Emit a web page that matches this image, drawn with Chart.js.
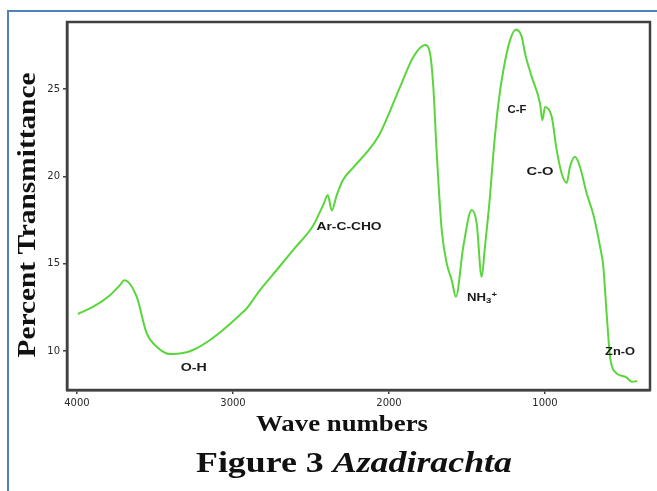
<!DOCTYPE html>
<html><head><meta charset="utf-8">
<script src="https://cdn.jsdelivr.net/npm/chart.js@4.4.0/dist/chart.umd.min.js"></script>
<style>
html,body{margin:0;padding:0;background:#fff;}
#wrap{position:relative;width:657px;height:491px;overflow:hidden;background:#fff;}
#frame{position:absolute;left:7px;top:10px;width:700px;height:600px;border-left:2px solid #4f81bd;border-top:2px solid #4f81bd;}
canvas{position:absolute;left:0;top:0;}
</style></head><body>
<div id="wrap"><div id="frame"></div><canvas id="c" width="657" height="491"></canvas></div>
<script>
// ---- data ----
const wavenumbers = [3994,3895,3788,3724,3697,3617,3553,3489,3404,3329,3256,3147,3040,2934,2912,2827,2720,2615,2485,2420,2392,2367,2335,2295,2230,2122,2058,1929,1844,1769,1737,1716,1694,1662,1630,1598,1571,1524,1470,1438,1406,1385,1353,1331,1299,1267,1224,1186,1149,1128,1085,1032,1017,1000,957,925,893,861,840,808,776,733,690,647,626,605,583,551,480,444,408];
const transmittance = [12.12,12.54,13.2,13.78,14.06,13.1,11.01,10.25,9.83,9.87,10.06,10.63,11.39,12.25,12.44,13.49,14.64,15.78,17.2,18.4,18.93,18.05,18.93,19.79,20.5,21.6,22.46,25.13,26.84,27.52,27.04,25.13,21.31,16.93,15.02,14.06,13.11,15.97,18.07,17.31,14.25,15.97,18.83,21.31,24.17,26.08,27.8,28.41,27.99,27.04,25.7,24.17,23.22,23.98,23.41,21.5,20.17,19.63,20.55,21.12,20.55,19.03,17.8,15.97,14.82,12.15,9.67,8.8,8.51,8.24,8.28];
const xTickValues = [4000,3000,2000,1000];
const yTickValues = [10,15,20,25];
const peakNames = ['O-H','Ar-C-CHO','NH3+','C-F','C-O','Zn-O'];
const peakWn = [3252,2256,1404,1179,1032,519];
const peakT = [9.03,17.10,13.03,23.79,20.25,9.94];
const xTitle = 'Wave numbers';
const yTitle = 'Percent Transmittance';
const captionMain = 'Figure 3 ';
const captionItalic = 'Azadirachta';

// ---- styling ----
const peakLabelWidths = {'O-H':26,'Ar-C-CHO':65,'NH3+':30,'C-F':19,'C-O':27,'Zn-O':30};

function fitText(ctx, text, cx, cy, w, font, rot) {
  ctx.save();
  ctx.font = font;
  const m = ctx.measureText(text).width;
  ctx.translate(cx, cy);
  if (rot) ctx.rotate(rot);
  ctx.scale(w / m, 1);
  ctx.textAlign = 'center';
  ctx.textBaseline = 'middle';
  ctx.fillText(text, 0, 0);
  ctx.restore();
}

const decor = {
  id: 'decor',
  beforeDatasetsDraw(chart) {
    const {ctx, chartArea: a} = chart;
    ctx.save();
    ctx.strokeStyle = '#404040';
    ctx.lineWidth = 2.5;
    ctx.strokeRect(a.left, a.top, a.right - a.left, a.bottom - a.top);
    ctx.restore();
  },
  afterDraw(chart) {
    const {ctx} = chart;
    const xs = chart.scales.x, ys = chart.scales.y;
    ctx.save();
    ctx.fillStyle = '#111';
    // axis titles
    fitText(ctx, yTitle, 29, 215, 285, 'bold 25px "Liberation Serif"', -Math.PI / 2);
    fitText(ctx, xTitle, 342, 425, 172, 'bold 24px "Liberation Serif"');
    // caption
    ctx.font = 'bold 29px "Liberation Serif"';
    const w1 = ctx.measureText(captionMain).width;
    ctx.font = 'bold italic 29px "Liberation Serif"';
    const w2 = ctx.measureText(captionItalic).width;
    const target = 316, sx = target / (w1 + w2);
    ctx.save();
    ctx.translate(196, 465);
    ctx.scale(sx, 1);
    ctx.textBaseline = 'middle';
    ctx.textAlign = 'left';
    ctx.font = 'bold 29px "Liberation Serif"';
    ctx.fillText(captionMain, 0, 0);
    ctx.font = 'bold italic 29px "Liberation Serif"';
    ctx.fillText(captionItalic, w1, 0);
    ctx.restore();
    // peak labels
    ctx.fillStyle = '#1a1a1a';
    peakNames.forEach((name, i) => {
      const px = xs.getPixelForValue(peakWn[i]);
      const py = ys.getPixelForValue(peakT[i]);
      const w = peakLabelWidths[name];
      if (name === 'NH3+') {
        ctx.save();
        ctx.font = 'bold 11px "Liberation Sans"';
        const wNH = ctx.measureText('NH').width;
        ctx.font = 'bold 8px "Liberation Sans"';
        const w3 = ctx.measureText('3').width, wp = ctx.measureText('+').width;
        const tot = wNH + w3 + wp;
        const s = w / tot;
        ctx.translate(px - w / 2, py);
        ctx.scale(s, 1);
        ctx.textBaseline = 'middle';
        ctx.textAlign = 'left';
        ctx.font = 'bold 11px "Liberation Sans"';
        ctx.fillText('NH', 0, 0);
        ctx.font = 'bold 8px "Liberation Sans"';
        ctx.fillText('3', wNH, 3);
        ctx.fillText('+', wNH + w3, -3);
        ctx.restore();
      } else {
        fitText(ctx, name, px, py, w, 'bold 11px "Liberation Sans"');
      }
    });
    ctx.restore();
  }
};

new Chart(document.getElementById('c'), {
  type: 'line',
  data: {
    datasets: [{
      data: wavenumbers.map((v, i) => ({x: v, y: transmittance[i]})),
      borderColor: '#5ad63c',
      borderWidth: 2,
      pointRadius: 0,
      cubicInterpolationMode: 'monotone',
      fill: false
    }]
  },
  options: {
    responsive: false,
    devicePixelRatio: 1,
    animation: false,
    layout: {padding: {left: 0, top: 22, right: 7, bottom: 0}},
    plugins: {legend: {display: false}, tooltip: {enabled: false}},
    scales: {
      x: {
        type: 'linear',
        reverse: true,
        min: 327,
        max: 4064,
        afterBuildTicks: s => { s.ticks = xTickValues.map(v => ({value: v})); },
        afterFit: s => { s.height = 101; },
        grid: {drawOnChartArea: false, drawTicks: true, tickLength: 4, color: '#404040', lineWidth: 1.5},
        border: {display: true, color: '#404040', width: 2.5},
        ticks: {color: '#2a2a2a', font: {family: 'DejaVu Sans', size: 10}, padding: 3, maxRotation: 0, autoSkip: false, callback: v => String(v)}
      },
      y: {
        type: 'linear',
        min: 7.77,
        max: 28.84,
        afterBuildTicks: s => { s.ticks = yTickValues.map(v => ({value: v})); },
        afterFit: s => { s.width = 67; },
        grid: {drawOnChartArea: false, drawTicks: true, tickLength: 4, color: '#404040', lineWidth: 1.5},
        border: {display: true, color: '#404040', width: 2.5},
        ticks: {color: '#2a2a2a', font: {family: 'DejaVu Sans', size: 10}, padding: 3, callback: v => String(v)}
      }
    }
  },
  plugins: [decor]
});
</script>
</body></html>
